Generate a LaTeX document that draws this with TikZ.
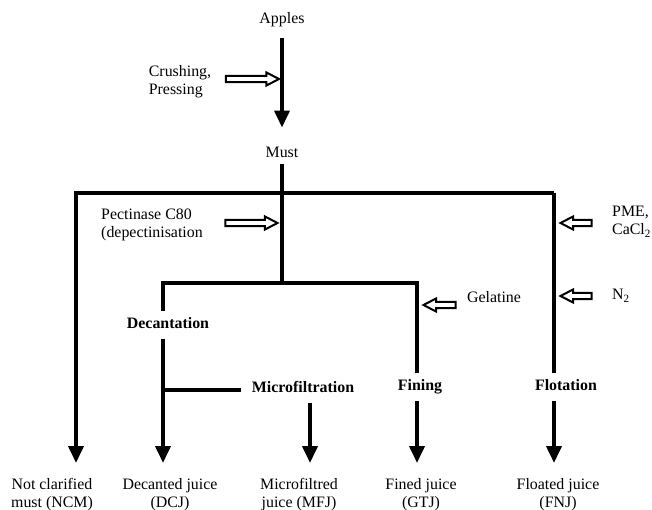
\documentclass[tikz,border=0pt]{standalone}
\usepackage{fontspec}
\setmainfont{Liberation Serif}
\usetikzlibrary{arrows.meta,shapes.arrows}

\tikzset{
  flow/.style={line width=3.8pt},
  flowarr/.style={flow, -{Triangle[length=17pt,width=15pt]}},
  stage/.style={font=\fontsize{15.9}{18}\selectfont\bfseries, text height=10pt, text depth=3pt, inner ysep=7pt, inner xsep=2pt},
  addin/.style={single arrow, draw, line width=2pt, fill=white, inner xsep=0pt, inner ysep=2.1pt, single arrow head extend=3.5pt, single arrow tip angle=55},
}

\begin{document}
\begin{tikzpicture}[x=1pt, y=-1pt, every node/.style={font=\fontsize{15.9}{18}\selectfont, inner sep=1pt}]
	\useasboundingbox (0,0) rectangle (652,510);
	% raw material
	\node (apples) at (282,20) {Apples};
	\node (must) at (282,152) {Must};
	\node[align=left] (crushlbl) at (180,82) {Crushing,\\Pressing};
	\node[addin, minimum height=53pt] (crush) at (249.5,79) {};
	\draw[flowarr, shorten <=10pt, shorten >=18pt] (apples) -- (must);
	% treatments
	\node[align=left] (pectlbl) at (152,225) {Pectinase C80\\(depectinisation};
	\node[addin, minimum height=52pt] (pect) at (248.5,223) {};
	\node (gellbl) at (494,297) {Gelatine};
	\node[addin, minimum height=32pt, shape border rotate=180] (gel) at (442.5,305) {};
	\node[align=left, anchor=west] (pmelbl) at (611,222) {PME,\\CaCl\textsubscript{2}};
	\node[addin, minimum height=31pt, shape border rotate=180] (pme) at (579,223) {};
	\node[anchor=west] (nitrolbl) at (611,296) {N\textsubscript{2}};
	\node[addin, minimum height=31pt, shape border rotate=180] (nitro) at (579,296) {};
	% clarification steps
	\node[stage] (decant) at (168,325) {Decantation};
	\node[stage] (micro) at (303,389) {Microfiltration};
	\node[stage] (fining) at (420,387) {Fining};
	\node[stage] (flot) at (566,387) {Flotation};
	% juices
	\node[align=center] (ncm) at (52,495) {Not clarified\\must (NCM)};
	\node[align=center] (dcj) at (170,495) {Decanted juice\\(DCJ)};
	\node[align=center] (mfj) at (299,495) {Microfiltred\\juice (MFJ)};
	\node[align=center] (gtj) at (421,495) {Fined juice\\(GTJ)};
	\node[align=center] (fnj) at (558,495) {Floated juice\\(FNJ)};
	% junctions
	\coordinate (topleft) at (76,193);
	\coordinate (topright) at (554,193);
	\coordinate (lowmid) at (282,283);
	\coordinate (lowleft) at (163,283);
	\coordinate (lowright) at (417,283);
	\coordinate (mfbranch) at (163,390);
	\coordinate (ncmend) at (76,463);
	\coordinate (dcjend) at (163,463);
	\coordinate (mfjend) at (310,463);
	\coordinate (gtjend) at (417,463);
	\coordinate (fnjend) at (554,463);
	% connectors
	\draw[flow, shorten <=6pt] (must) -- (lowmid);
	\draw[flowarr] (topright) -- (topleft) -- (ncmend);
	\draw[flow] (topright) -- (topright |- flot.north);
	\draw[flowarr] (flot.south -| fnjend) -- (fnjend);
	\draw[flow] (lowright |- fining.north) -- (lowright) -- (lowleft) -- (lowleft |- decant.north);
	\draw[flowarr] (fining.south -| gtjend) -- (gtjend);
	\draw[flowarr] (decant.south -| dcjend) -- (dcjend);
	\draw[flow, shorten >=9pt] (mfbranch) -- (mfbranch -| micro.west);
	\draw[flowarr] (micro.south -| mfjend) -- (mfjend);
\end{tikzpicture}
\end{document}
